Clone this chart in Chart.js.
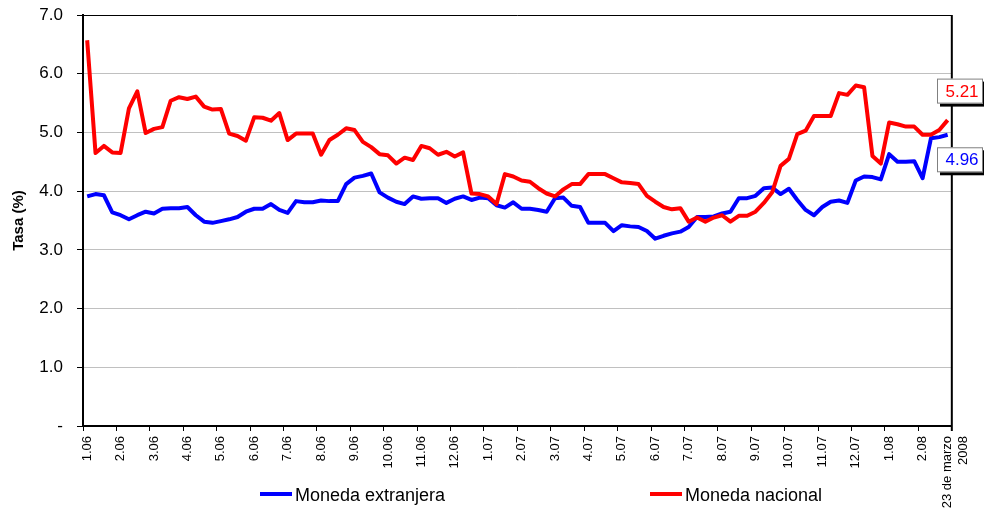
<!DOCTYPE html>
<html>
<head>
<meta charset="utf-8">
<script src="https://cdn.jsdelivr.net/npm/chart.js@4.4.1/dist/chart.umd.min.js"></script>
<style>
  html, body { margin: 0; padding: 0; background: #fff; }
  #wrap { width: 984px; height: 517px; position: relative; }
</style>
</head>
<body>
<div id="wrap"><canvas id="tasaCanvas"></canvas></div>
<script>
// Month tick labels, one every 4 weekly observations
const TICK_LABELS = [
  '1.06', '2.06', '3.06', '4.06', '5.06', '6.06', '7.06', '8.06', '9.06', '10.06', '11.06', '12.06',
  '1.07', '2.07', '3.07', '4.07', '5.07', '6.07', '7.07', '8.07', '9.07', '10.07', '11.07', '12.07',
  '1.08', '2.08'
];
const END_LABEL = ['23 de marzo', '2008'];
const WEEKS_PER_TICK = 4;

// Weekly rates (%)
const monedaExtranjera = [
  3.91, 3.95, 3.93, 3.64, 3.59, 3.52, 3.59, 3.65, 3.62, 3.70, 3.71, 3.71, 3.73, 3.59, 3.48, 3.46,
  3.49, 3.52, 3.56, 3.65, 3.70, 3.70, 3.78, 3.68, 3.63, 3.83, 3.81, 3.81, 3.84, 3.83, 3.83, 4.12,
  4.23, 4.26, 4.30, 3.98, 3.89, 3.82, 3.78, 3.91, 3.87, 3.88, 3.88, 3.80, 3.87, 3.91, 3.85, 3.89,
  3.88, 3.76, 3.72, 3.81, 3.70, 3.70, 3.68, 3.65, 3.88, 3.89, 3.75, 3.73, 3.46, 3.46, 3.46, 3.32,
  3.42, 3.40, 3.39, 3.32, 3.19, 3.24, 3.28, 3.31, 3.39, 3.56, 3.56, 3.57, 3.62, 3.65, 3.88, 3.88,
  3.92, 4.05, 4.06, 3.95, 4.04, 3.85, 3.68, 3.59, 3.73, 3.82, 3.84, 3.80, 4.18, 4.25, 4.24, 4.20,
  4.63, 4.50, 4.50, 4.51, 4.22, 4.90, 4.92, 4.96
];
const monedaNacional = [
  6.57, 4.65, 4.77, 4.66, 4.65, 5.41, 5.70, 4.99, 5.06, 5.09, 5.54, 5.60, 5.57, 5.61, 5.44, 5.39,
  5.40, 4.98, 4.94, 4.86, 5.26, 5.25, 5.20, 5.33, 4.87, 4.98, 4.98, 4.98, 4.62, 4.87, 4.96, 5.07,
  5.04, 4.84, 4.75, 4.63, 4.61, 4.47, 4.57, 4.53, 4.77, 4.73, 4.62, 4.67, 4.59, 4.66, 3.96, 3.95,
  3.91, 3.78, 4.29, 4.25, 4.18, 4.16, 4.05, 3.96, 3.91, 4.03, 4.12, 4.12, 4.29, 4.29, 4.29, 4.22,
  4.15, 4.14, 4.12, 3.92, 3.82, 3.73, 3.69, 3.71, 3.48, 3.55, 3.48, 3.55, 3.59, 3.48, 3.58, 3.58,
  3.65, 3.80, 3.98, 4.43, 4.55, 4.97, 5.03, 5.28, 5.28, 5.28, 5.67, 5.64, 5.80, 5.77, 4.60, 4.47,
  5.17, 5.14, 5.10, 5.10, 4.96, 4.96, 5.04, 5.21
];

const FONT = "'Liberation Sans', Arial, sans-serif";
const N = monedaNacional.length;

const labels = monedaNacional.map((v, i) => {
  if (i % WEEKS_PER_TICK === 0 && TICK_LABELS[i / WEEKS_PER_TICK]) return TICK_LABELS[i / WEEKS_PER_TICK];
  if (i === N - 1) return END_LABEL;
  return '';
});

// last-value boxes, right border and legend
const extrasPlugin = {
  id: 'extras',
  afterDatasetsDraw(chart) {
    const { ctx, chartArea, scales } = chart;
    ctx.save();
    // top and right frame lines
    ctx.strokeStyle = '#000';
    ctx.lineWidth = 1;
    ctx.beginPath();
    ctx.moveTo(chartArea.left, chartArea.top + 0.5);
    ctx.lineTo(chartArea.right, chartArea.top + 0.5);
    ctx.stroke();
    ctx.lineWidth = 2;
    ctx.beginPath();
    ctx.moveTo(chartArea.right, chartArea.top);
    ctx.lineTo(chartArea.right, chartArea.bottom + 5);
    ctx.stroke();

    chart.data.datasets.forEach(ds => {
      const v = ds.data[ds.data.length - 1];
      const y = scales.y.getPixelForValue(v) + ds.boxOffset;
      const w = 46, h = 25, x = 937;
      ctx.fillStyle = '#000';
      ctx.fillRect(x + 3, y - h / 2 + 3, w, h);
      ctx.fillStyle = '#fff';
      ctx.fillRect(x, y - h / 2, w, h);
      ctx.strokeStyle = '#808080';
      ctx.lineWidth = 1;
      ctx.strokeRect(x + 0.5, y - h / 2 + 0.5, w - 1, h - 1);
      ctx.fillStyle = ds.borderColor;
      ctx.font = '17px ' + FONT;
      ctx.textAlign = 'center';
      ctx.textBaseline = 'middle';
      ctx.fillText(v.toFixed(2), x + w / 2 + 2, y + 1);
    });

    // legend
    ctx.font = '18px ' + FONT;
    ctx.textAlign = 'left';
    ctx.textBaseline = 'middle';
    chart.data.datasets.forEach(ds => {
      const lx = ds.legendX, ly = 494;
      ctx.strokeStyle = ds.borderColor;
      ctx.lineWidth = 4;
      ctx.beginPath();
      ctx.moveTo(lx, ly);
      ctx.lineTo(lx + 32, ly);
      ctx.stroke();
      ctx.fillStyle = '#000';
      ctx.fillText(ds.label, lx + 35, ly + 2);
    });
    ctx.restore();
  }
};

new Chart(document.getElementById('tasaCanvas').getContext('2d'), {
  type: 'line',
  data: {
    labels,
    datasets: [
      {
        label: 'Moneda extranjera',
        data: monedaExtranjera,
        borderColor: '#0000ff',
        borderWidth: 4,
        pointRadius: 0,
        tension: 0,
        borderJoinStyle: 'round',
        order: 2,
        boxOffset: 25,
        legendX: 260,
      },
      {
        label: 'Moneda nacional',
        data: monedaNacional,
        borderColor: '#ff0000',
        borderWidth: 4,
        pointRadius: 0,
        tension: 0,
        borderJoinStyle: 'round',
        order: 1,
        boxOffset: -29,
        legendX: 650,
      },
    ],
  },
  options: {
    responsive: true,
    maintainAspectRatio: false,
    animation: false,
    layout: { padding: { left: 0, right: 32, top: 15, bottom: 0 } },
    plugins: {
      legend: { display: false },
      tooltip: { enabled: false },
    },
    scales: {
      x: {
        type: 'category',
        offset: true,
        grid: {
          offset: true,
          drawOnChartArea: false,
          tickLength: 5,
          tickWidth: 1,
          tickColor: ctx => (ctx.index === undefined || ctx.index % WEEKS_PER_TICK === 0) ? '#000' : 'rgba(0,0,0,0)',
        },
        border: { color: '#000', width: 2 },
        ticks: {
          autoSkip: false,
          minRotation: 90,
          maxRotation: 90,
          padding: 5,
          color: '#000',
          font: { family: FONT, size: 13 },
        },
        afterFit: s => { s.height = 91; s.paddingTop = 0; s.paddingBottom = 0; },
      },
      y: {
        min: 0,
        max: 7,
        ticks: {
          stepSize: 1,
          padding: 14,
          color: '#000',
          font: { family: FONT, size: 17 },
          callback: v => v === 0 ? '-' : v.toFixed(1),
        },
        grid: {
          color: '#c0c0c0',
          lineWidth: 1,
          tickLength: 6,
          tickColor: '#000',
        },
        border: { color: '#000', width: 2 },
        title: {
          display: true,
          text: 'Tasa (%)',
          color: '#000',
          font: { family: FONT, size: 15, weight: 'bold' },
          padding: { top: 10, bottom: 0 },
        },
        afterFit: s => { s.width = 83; s.paddingTop = 0; s.paddingBottom = 0; },
      },
    },
  },
  plugins: [extrasPlugin],
});
</script>
</body>
</html>
